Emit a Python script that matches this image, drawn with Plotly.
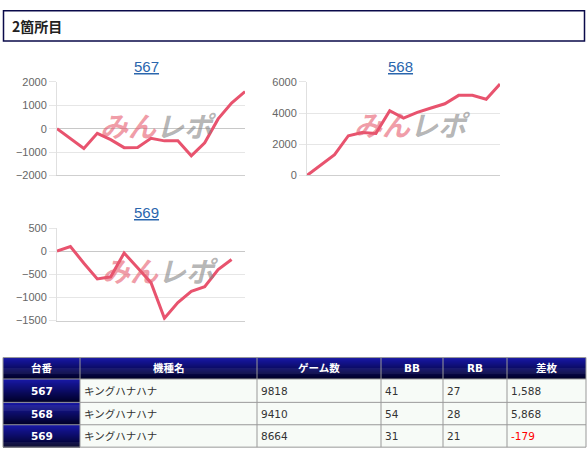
import plotly.graph_objects as go

W, H = 588, 459

# ── data ─────────────────────────────────────────────────────────────
SLOTS = ["567", "568", "569"]
DIFF_567 = [0, -420, -850, -200, -470, -810, -800, -410, -520, -520, -1160, -600, 420, 1100, 1588]
DIFF_568 = [0, 670, 1340, 2550, 2760, 2700, 4160, 3680, 4050, 4330, 4600, 5140, 5140, 4890, 5868]
DIFF_569 = [0, 100, -260, -600, -555, -40, -360, -680, -1450, -1110, -870, -770, -400, -179]

Y_RANGES = [(-2000, 2000), (0, 6000), (-1500, 500)]
Y_DTICK = [1000, 2000, 500]

TABLE_HEAD = ["台番", "機種名", "ゲーム数", "BB", "RB", "差枚"]
MACHINES = ["キングハナハナ", "キングハナハナ", "キングハナハナ"]
GAMES = [9818, 9410, 8664]
BB = [41, 54, 31]
RB = [27, 28, 21]
FINAL_DIFF = [1588, 5868, -179]

LINE_COLOR = "#e8536e"
GRID = "#e6e6e6"
TICK_TXT = "#666666"
LINK = "#2a66ad"
NAVY_BORDER = "#0a0a4a"
CELL_BORDER = "#999999"
CELL_BG = "#f7fbf7"
JP = "Noto Sans CJK JP"
TBL_FONT = "DejaVu Sans, Noto Sans CJK JP"


def px(x):
    return x / W


def py(y):
    return 1 - y / H


# plot areas in page pixels: (left, right, top, bottom)
BOXES = [(57, 245, 78, 174), (307, 500, 78, 174), (57, 245, 228, 323)]
TITLE_POS = [(146, 62), (400, 62), (146, 212)]
MARK_POS = [(158, 122), (413, 121), (160, 271)]

fig = go.Figure()

for i, vals in enumerate([DIFF_567, DIFF_568, DIFF_569]):
    sfx = "" if i == 0 else str(i + 1)
    fig.add_trace(go.Scatter(
        x=list(range(len(vals))), y=vals,
        mode="lines",
        line=dict(color=LINE_COLOR, width=3),
        xaxis="x" + sfx, yaxis="y" + sfx,
        showlegend=False, hoverinfo="y",
    ))

layout_axes = {}
for i, (l, r, t, b) in enumerate(BOXES):
    sfx = "" if i == 0 else str(i + 1)
    layout_axes["xaxis" + sfx] = dict(
        domain=[px(l), px(r)], range=[0, 14],
        showticklabels=False, showgrid=False, zeroline=False,
        showline=True, linecolor="#cfcfcf", linewidth=1,
        anchor="y" + sfx, fixedrange=True,
    )
    layout_axes["yaxis" + sfx] = dict(
        domain=[py(b), py(t)], range=list(Y_RANGES[i]), dtick=Y_DTICK[i],
        showgrid=True, gridcolor=GRID, gridwidth=1,
        zeroline=True, zerolinecolor="#c8c8c8", zerolinewidth=1,
        showline=True, linecolor="#e0e0e0",
        ticks="outside", ticklen=7, tickcolor=GRID,
        tickfont=dict(family="Liberation Sans", size=11, color=TICK_TXT),
        anchor="x" + sfx, fixedrange=True,
    )

annotations = []
shapes = []

# header box
shapes.append(dict(type="rect", xref="paper", yref="paper",
                   x0=px(3.5), x1=px(584.5), y0=py(36), y1=py(5),
                   line=dict(color=NAVY_BORDER, width=1.5), fillcolor="white"))
annotations.append(dict(text="<b>2箇所目</b>", xref="paper", yref="paper",
                        x=px(10), y=py(20.5), xanchor="left", yanchor="middle",
                        showarrow=False, font=dict(family=JP, size=14, color="#222222")))

# chart titles + watermarks
for slot, (tx, ty), (mx, my) in zip(SLOTS, TITLE_POS, MARK_POS):
    annotations.append(dict(text=f"<u>{slot}</u>", xref="paper", yref="paper",
                            x=px(tx), y=py(ty), xanchor="center", yanchor="middle",
                            showarrow=False,
                            font=dict(family="Liberation Sans", size=15, color=LINK)))
    annotations.append(dict(
        text=("<b><i><span style='color:rgba(230,90,110,0.6)'>みん</span>"
              "<span style='color:rgba(135,135,135,0.62)'>レポ</span></i></b>"),
        xref="paper", yref="paper", x=px(mx), y=py(my),
        xanchor="center", yanchor="middle", showarrow=False,
        font=dict(family=JP, size=28)))

# ── table ────────────────────────────────────────────────────────────
COLS = [3, 80, 257, 381, 443, 507, 586]
ROWS = [361, 383, 407, 430, 453]


def gradient(x0, x1, y0, y1):
    top, bot = (24, 24, 165), (0, 0, 40)
    steps = int(round(y1 - y0))
    h = (y1 - y0) / steps
    for k in range(steps):
        f = k / (steps - 1)
        c = tuple(round(top[j] + (bot[j] - top[j]) * f) for j in range(3))
        shapes.append(dict(type="rect", xref="paper", yref="paper",
                           x0=px(x0), x1=px(x1),
                           y0=py(y0 + h * (k + 1) + 0.6), y1=py(y0 + h * k),
                           line=dict(width=0), fillcolor=f"rgb{c}"))


gradient(COLS[0], COLS[-1], ROWS[0], ROWS[1])
for r in range(3):
    gradient(COLS[0], COLS[1], ROWS[r + 1], ROWS[r + 2])
    shapes.append(dict(type="rect", xref="paper", yref="paper",
                       x0=px(COLS[1]), x1=px(COLS[-1]),
                       y0=py(ROWS[r + 2]), y1=py(ROWS[r + 1]),
                       line=dict(width=0), fillcolor=CELL_BG))

# grid lines of table
for x in COLS:
    shapes.append(dict(type="line", xref="paper", yref="paper",
                       x0=px(x), x1=px(x), y0=py(ROWS[-1]), y1=py(ROWS[0]),
                       line=dict(color=CELL_BORDER, width=1)))
for y in ROWS:
    shapes.append(dict(type="line", xref="paper", yref="paper",
                       x0=px(COLS[0]), x1=px(COLS[-1]), y0=py(y), y1=py(y),
                       line=dict(color=CELL_BORDER, width=1)))

for c, head in enumerate(TABLE_HEAD):
    annotations.append(dict(text=f"<b>{head}</b>", xref="paper", yref="paper",
                            x=px((COLS[c] + COLS[c + 1]) / 2), y=py((ROWS[0] + ROWS[1]) / 2),
                            xanchor="center", yanchor="middle", showarrow=False,
                            font=dict(family=TBL_FONT, size=10.5, color="white")))

for r in range(3):
    ymid = py((ROWS[r + 1] + ROWS[r + 2]) / 2)
    annotations.append(dict(text=f"<b>{SLOTS[r]}</b>", xref="paper", yref="paper",
                            x=px((COLS[0] + COLS[1]) / 2), y=ymid,
                            xanchor="center", yanchor="middle", showarrow=False,
                            font=dict(family=TBL_FONT, size=10.5, color="white")))
    d = FINAL_DIFF[r]
    cells = [MACHINES[r], str(GAMES[r]), str(BB[r]), str(RB[r]), f"{d:,}"]
    for c, txt in enumerate(cells):
        color = "#ff0000" if (c == 4 and d < 0) else "#333333"
        annotations.append(dict(text=txt, xref="paper", yref="paper",
                                x=px(COLS[c + 1] + 2), y=ymid,
                                xanchor="left", yanchor="middle", showarrow=False,
                                font=dict(family=TBL_FONT, size=10.5, color=color)))

fig.update_layout(
    width=W, height=H,
    margin=dict(l=0, r=0, t=0, b=0),
    paper_bgcolor="white", plot_bgcolor="white",
    showlegend=False,
    annotations=annotations,
    shapes=shapes,
    **layout_axes,
)

# page body has a default 8px margin; drop it so the figure fills the window
fig.write_html(
    "out.html",
    config={"displayModeBar": False},
    post_script="document.body.style.margin='0';document.body.style.overflow='hidden';",
)
